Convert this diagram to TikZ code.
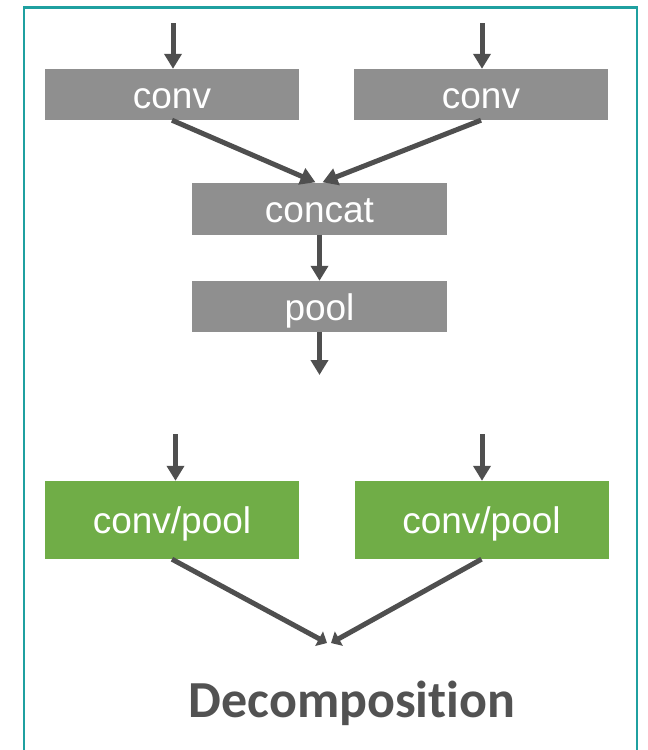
\documentclass[tikz,border=0pt]{standalone}
\usepackage{fontspec}
\setmainfont{Liberation Sans}
\newfontfamily\titlefont[Ligatures=NoCommon]{Carlito}
\usetikzlibrary{arrows.meta}

\definecolor{framecol}{HTML}{1FA0A0}
\definecolor{boxgray}{HTML}{8F8F8F}
\definecolor{boxgreen}{HTML}{70AD47}
\definecolor{arrowgray}{HTML}{4F4F4F}
\definecolor{titlegray}{HTML}{525252}

\tikzset{
  layerbox/.style={rectangle, inner sep=0pt, draw=none, text=white,
    font=\fontsize{37}{40}\selectfont, text height=27pt, text depth=0pt},
  graybox/.style={layerbox, fill=boxgray, minimum width=254pt, minimum height=51pt},
  greenbox/.style={layerbox, fill=boxgreen, minimum width=254pt, minimum height=78pt},
  flow/.style={draw=arrowgray, line width=5pt,
    -{Triangle[length=15pt,width=17pt]}}
}

\begin{document}
\begin{tikzpicture}[x=1pt,y=-1pt]
\useasboundingbox (0,0) rectangle (648,750);

% outer frame, open at the bottom
\draw[framecol, line width=2.5pt] (24,760) -- (24,7.5) -- (637,7.5) -- (637,760);

% upper network: two convolutions merged by concatenation
\node[graybox] (convL) at (172,94.5) {conv};
\node[graybox] (convR) at (481,94.5) {conv};
\node[graybox, minimum width=255pt, minimum height=52pt] (concat) at (319.5,208.5) {concat};
\node[graybox, minimum width=255pt] (pool) at (319.5,306.5) {pool};

\coordinate (inL) at (173,23);
\coordinate (inR) at (482,23);
\coordinate (outTop) at (319.5,375);

\draw[flow] (inL) -- (inL |- convL.north);
\draw[flow] (inR) -- (inR |- convR.north);
\draw[flow] (convL.south) -- ([xshift=-4pt]concat.north);
\draw[flow] (convR.south) -- ([xshift=3pt]concat.north);
\draw[flow] (concat.south) -- (pool.north);
\draw[flow] (pool.south) -- (outTop);

% lower network: decomposed branches
\node[greenbox] (cpL) at (172,520) {conv/pool};
\node[greenbox] (cpR) at (481.5,520) {conv/pool};

\coordinate (inL2) at (175.5,434);
\coordinate (inR2) at (482,434);
\coordinate (merge) at (329,643);

\draw[flow] (inL2) -- (inL2 |- cpL.north);
\draw[flow] (inR2) -- (inR2 |- cpR.north);
\draw[flow, -{Triangle[length=9pt,width=16pt]}] (cpL.south) -- ([xshift=-2pt]merge);
\draw[flow, -{Triangle[length=9pt,width=16pt]}] (cpR.south) -- ([xshift=2pt]merge);

\node[anchor=base, text=titlegray, font=\titlefont\bfseries\fontsize{52}{56}\selectfont]
  (title) at (352,717) {Decomposition};
\end{tikzpicture}
\end{document}
